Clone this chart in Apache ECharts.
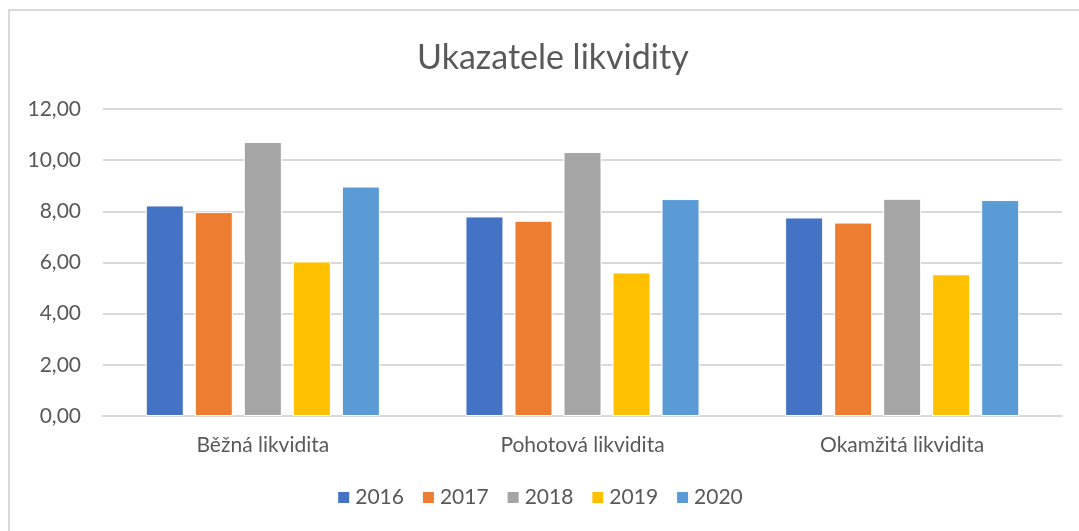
<!DOCTYPE html>
<html lang="cs">

<head>
    <meta charset="UTF-8">
    <title>Ukazatele likvidity</title>
    <script src="https://cdn.jsdelivr.net/npm/echarts/dist/echarts.min.js"></script>
    <style>
        html, body { margin: 0; padding: 0; background: #fff; }
    </style>
</head>

<body>
    <div id="main" style="width: 1079px; height: 531px;"></div>
    <script type="text/javascript">
        // data
        var categories = ['Běžná likvidita', 'Pohotová likvidita', 'Okamžitá likvidita'];
        var years = ['2016', '2017', '2018', '2019', '2020'];
        var v2016 = [8.23, 7.80, 7.76];
        var v2017 = [7.97, 7.63, 7.56];
        var v2018 = [10.71, 10.32, 8.49];
        var v2019 = [6.04, 5.61, 5.54];
        var v2020 = [8.97, 8.48, 8.44];
        var yTicks = [0, 2, 4, 6, 8, 10, 12];

        var values = [v2016, v2017, v2018, v2019, v2020];
        var colors = ['#4472c4', '#ed7d31', '#a5a5a5', '#ffc000', '#5b9bd5'];
        var font = 'Lato, "Open Sans", sans-serif';

        var myChart = echarts.init(document.getElementById('main'));

        var series = years.map(function (y, i) {
            return {
                name: y,
                type: 'bar',
                barWidth: 38,
                barGap: '29%',
                itemStyle: {
                    color: colors[i],
                    borderColor: '#ffffff',
                    borderWidth: 1
                },
                data: values[i]
            };
        });

        var option = {
            animation: false,
            textStyle: { fontFamily: font },
            title: {
                text: 'Ukazatele likvidity',
                left: 412,
                top: 36,
                textStyle: {
                    color: '#595959',
                    fontSize: 34,
                    fontWeight: 'normal',
                    fontFamily: font
                }
            },
            graphic: [{
                type: 'rect',
                shape: { x: 9, y: 10, width: 1200, height: 700 },
                style: { fill: 'none', stroke: '#d9d9d9', lineWidth: 2 },
                silent: true
            }],
            legend: {
                data: years,
                bottom: 18,
                left: 'center',
                icon: 'rect',
                itemWidth: 13,
                itemHeight: 13,
                itemGap: 17,
                textStyle: { color: '#595959', fontSize: 21, fontFamily: font }
            },
            grid: {
                left: 103,
                right: 17,
                top: 109,
                bottom: 115
            },
            xAxis: {
                type: 'category',
                data: categories,
                axisTick: { show: false },
                axisLine: { lineStyle: { color: '#d9d9d9', width: 2 } },
                axisLabel: { color: '#595959', fontSize: 21, margin: 19, fontFamily: font }
            },
            yAxis: {
                type: 'value',
                min: yTicks[0],
                max: yTicks[yTicks.length - 1],
                interval: 2,
                axisLine: { show: false },
                axisTick: { show: false },
                splitLine: { lineStyle: { color: '#d9d9d9', width: 2 } },
                axisLabel: {
                    color: '#595959',
                    fontSize: 21,
                    margin: 22,
                    fontFamily: font,
                    formatter: function (v) { return v.toFixed(2).replace('.', ','); }
                }
            },
            series: series
        };

        myChart.setOption(option);
    </script>
</body>

</html>
